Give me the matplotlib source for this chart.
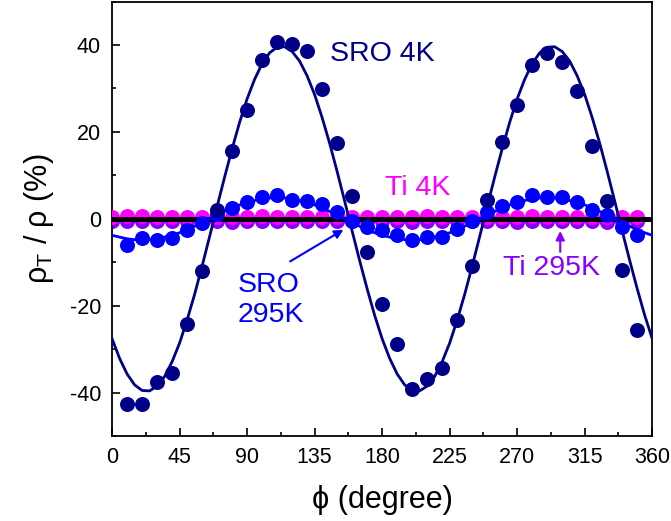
import numpy as np
import matplotlib.pyplot as plt
from matplotlib.ticker import MultipleLocator

plt.rcParams["font.family"] = ["Liberation Sans", "DejaVu Sans"]
plt.rcParams["mathtext.fontset"] = "custom"
plt.rcParams["mathtext.rm"] = "Liberation Sans"
plt.rcParams["mathtext.it"] = "Liberation Sans:italic"
plt.rcParams["axes.unicode_minus"] = False

# ------------------------------------------------------------------
# Data
# ------------------------------------------------------------------
phi_sro = np.arange(10, 360, 10)
phi_ti = np.arange(0, 360, 10)
phi_fit = np.arange(0, 365, 5)

sro_4k = [-42.7, -42.7, -37.6, -35.4, -24.1, -11.9, 2.1, 15.5, 25.1, 36.5,
          40.8, 40.2, 38.7, 29.9, 17.5, 5.2, -7.7, -19.7, -28.7, -39.2,
          -36.9, -34.3, -23.4, -10.9, 4.4, 17.6, 26.3, 35.5, 38.2, 36.0,
          29.5, 16.7, 4.2, -11.7, -25.5]

sro_295k = [-6.1, -4.4, -4.8, -4.4, -2.5, -1.0, 1.0, 2.5, 3.8, 5.1,
            5.5, 4.4, 4.2, 3.3, 1.5, -0.4, -1.8, -2.5, -3.8, -4.8,
            -4.1, -4.1, -2.3, -0.4, 1.5, 2.9, 3.8, 5.4, 5.0, 5.0,
            3.8, 2.1, 0.8, -1.9, -3.8]

ti_4k = [0.5, 0.6, 0.6, 0.5, 0.5, 0.5, 0.5, 0.4, 0.5, 0.5, 0.6, 0.5,
         0.5, 0.5, 0.5, 0.5, 0.4, 0.5, 0.5, 0.5, 0.5, 0.6, 0.5, 0.5,
         0.5, 0.5, 0.5, 0.5, 0.6, 0.5, 0.5, 0.5, 0.5, 0.5, 0.5, 0.5]

ti_295k = [-0.6, -0.6, -0.6, -0.6, -0.6, -0.6, -0.6, -0.6, -0.7, -0.6, -0.6, -0.6,
           -0.6, -0.6, -0.6, -0.6, -0.6, -0.6, -0.6, -0.6, -0.7, -0.6, -0.6, -0.6,
           -0.6, -0.6, -0.6, -0.7, -0.6, -0.6, -0.6, -0.6, -0.6, -0.7, -0.6, -0.6]

fit_4k = [-27.6, -32.1, -35.7, -38.2, -39.5, -39.6, -38.5, -36.3, -32.9, -28.6,
          -23.3, -17.4, -10.9, -4.1, 2.8, 9.6, 16.1, 22.2, 27.6, 32.1,
          35.7, 38.2, 39.5, 39.6, 38.5, 36.3, 32.9, 28.6, 23.3, 17.4,
          10.9, 4.1, -2.8, -9.6, -16.1, -22.2,
          -27.6, -32.1, -35.7, -38.2, -39.5, -39.6, -38.5, -36.3, -32.9, -28.6,
          -23.3, -17.4, -10.9, -4.1, 2.8, 9.6, 16.1, 22.2, 27.6, 32.1,
          35.7, 38.2, 39.5, 39.6, 38.5, 36.3, 32.9, 28.6, 23.3, 17.4,
          10.9, 4.1, -2.8, -9.6, -16.1, -22.2, -27.6]

fit_295k = [-3.8, -4.2, -4.6, -4.8, -4.9, -4.8, -4.6, -4.2, -3.8, -3.2,
            -2.5, -1.7, -0.9, 0.0, 0.9, 1.7, 2.5, 3.2, 3.8, 4.2,
            4.6, 4.8, 4.9, 4.8, 4.6, 4.2, 3.8, 3.2, 2.5, 1.7,
            0.9, 0.0, -0.9, -1.7, -2.5, -3.2,
            -3.8, -4.2, -4.6, -4.8, -4.9, -4.8, -4.6, -4.2, -3.8, -3.2,
            -2.5, -1.7, -0.9, 0.0, 0.9, 1.7, 2.5, 3.2, 3.8, 4.2,
            4.6, 4.8, 4.9, 4.8, 4.6, 4.2, 3.8, 3.2, 2.5, 1.7,
            0.9, 0.0, -0.9, -1.7, -2.5, -3.2, -3.8]

# ------------------------------------------------------------------
# Styles
# ------------------------------------------------------------------
c_navy = "#000088"
c_blue = "#0000ff"
c_magenta = "#ff00ff"
c_purple = "#8800ff"
ms = 10.8

fig = plt.figure(figsize=(6.71, 5.21), dpi=100)
ax = fig.add_axes([0.167, 0.163, 0.805, 0.834])

ax.plot(phi_ti, ti_295k, "o", color=c_purple, ms=ms, mec="none", zorder=2)
ax.plot(phi_ti, ti_4k, "o", color=c_magenta, ms=ms, mec="none", zorder=3)
ax.axhline(0, color="black", lw=3.6, zorder=4)

ax.plot(phi_fit, fit_295k, "-", color=c_blue, lw=2.0, zorder=5)
ax.plot(phi_fit, fit_4k, "-", color=c_navy, lw=2.0, zorder=5)
ax.plot(phi_sro, sro_295k, "o", color=c_blue, ms=ms, mec="none", zorder=6)
ax.plot(phi_sro, sro_4k, "o", color=c_navy, ms=ms, mec="none", zorder=7)

# Labels and arrows
fs_lab = 20.5
ax.text(145.3, 38.0, "SRO 4K", color=c_navy, fontsize=fs_lab, ha="left", va="center")
ax.text(182, 7.2, "Ti 4K", color=c_magenta, fontsize=fs_lab, ha="left", va="center")
ax.text(260.7, -11.3, "Ti 295K", color=c_purple, fontsize=fs_lab, ha="left", va="center")
ax.text(84, -18.7, "SRO\n295K", color=c_blue, fontsize=fs_lab, ha="left", va="center",
        linespacing=1.2)

ax.annotate("", xy=(154.2, -2.5), xytext=(118.7, -9.8),
            arrowprops=dict(arrowstyle="-|>", color=c_blue, lw=1.5, mutation_scale=13,
                            shrinkA=0, shrinkB=0), zorder=8)
ax.annotate("", xy=(298.7, -2.8), xytext=(298.7, -7.6),
            arrowprops=dict(arrowstyle="-|>", color=c_purple, lw=1.5, mutation_scale=13,
                            shrinkA=0, shrinkB=0), zorder=8)

# Axes
ax.set_xlim(0, 360)
ax.set_ylim(-50, 50)
ax.xaxis.set_major_locator(MultipleLocator(45))
ax.xaxis.set_minor_locator(MultipleLocator(22.5))
ax.yaxis.set_major_locator(MultipleLocator(20))
ax.yaxis.set_minor_locator(MultipleLocator(10))
ax.tick_params(which="both", direction="in", top=False, right=False, width=1.2,
               labelsize=15.5, pad=8)
ax.tick_params(which="major", length=6)
ax.tick_params(which="minor", length=3)
for sp in ax.spines.values():
    sp.set_linewidth(1.3)

ax.set_xlabel("\u03d5 (degree)", fontsize=22, labelpad=12)
ax.set_ylabel("ρ$_{\\mathrm{T}}$ / ρ (%)", fontsize=22, labelpad=10)

fig.savefig("out.png", dpi=100)
